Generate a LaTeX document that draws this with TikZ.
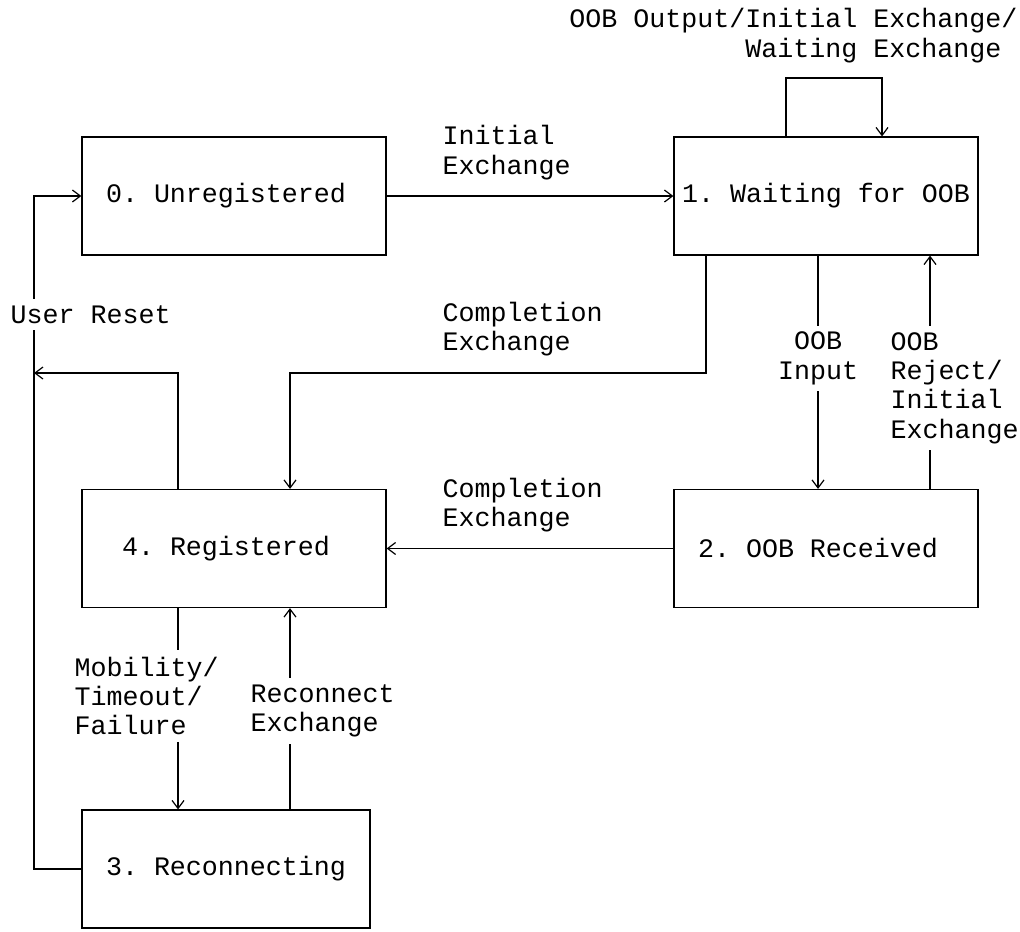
\documentclass[tikz,border=0pt]{standalone}
\usepackage{fontspec}
\setmonofont{Liberation Mono}
\usetikzlibrary{arrows.meta}

\begin{document}
\begin{tikzpicture}[x=0.5pt,y=-0.5pt,line width=0.6pt,>={Straight Barb[length=4pt,width=6pt]},
  every node/.style={font=\ttfamily\fontsize{13.33}{14.68}\selectfont},
  state/.style={draw,minimum width=152pt,minimum height=59pt,inner sep=0pt},
  lbl/.style={inner xsep=0pt,inner ysep=3pt}]
\useasboundingbox (0,0) rectangle (1020,931);
% states
\node[state](b0) at (234,196) {0. Unregistered\hphantom{x}};
\node[state](b1) at (826,196) {1. Waiting for OOB};
\node[state](b2) at (826,548.5) {2. OOB Received\hphantom{x}};
\node[state](b4) at (234,548.5) {4. Registered\hphantom{x}};
\node[state,minimum width=144pt](b3) at (226,869) {3. Reconnecting};
% labels
\node[lbl,anchor=east,align=right](lLoop) at (1018,35.7) {OOB Output/Initial Exchange/\\Waiting Exchange\hphantom{/}};
\node[lbl,anchor=west,align=left](lInit) at (442,152.5) {Initial\\Exchange};
\node[lbl,anchor=west,align=left](lCompl1) at (442,329.2) {Completion\\Exchange};
\node[lbl,align=center](lInput) at (818,358.5) {OOB\\Input};
\node[lbl,anchor=west,align=left](lReject) at (890,387.9) {OOB\\Reject/\\Initial\\Exchange};
\node[lbl,anchor=west,align=left](lCompl2) at (442,505.3) {Completion\\Exchange};
\node[lbl,anchor=west](lReset) at (10,314.5) {User Reset};
\node[lbl,anchor=west,align=left](lMob) at (74,696) {Mobility/\\Timeout/\\Failure};
\node[lbl,anchor=west,align=left](lRecon) at (250,710.7) {Reconnect\\Exchange};
% bends
\coordinate (loopturn) at (882,78);
\coordinate (cturn) at (290,373);
\coordinate (resetjoin) at (34,373);
% transitions
\draw[->] (b0) -- (b1);
\draw[->] (b1.north -| 786,0) |- (loopturn) -- (b1.north -| loopturn);
\draw[->] (b1.south -| 706,0) |- (cturn) -- (b4.north -| cturn);
\draw (b1.south -| lInput) -- (lInput);
\draw[->] (lInput) -- (b2.north -| lInput);
\draw (b2.north -| 930,0) -- (lReject.south -| 930,0);
\draw[->] (lReject.north -| 930,0) -- (b1.south -| 930,0);
\draw[->] (b2) -- (b4);
\draw[->] (b4.north -| 178,0) |- (resetjoin);
\draw (b4.south -| 178,0) -- (lMob.north -| 178,0);
\draw[->] (lMob.south -| 178,0) -- (b3.north -| 178,0);
\draw (b3.north -| 290,0) -- (lRecon.south -| 290,0);
\draw[->] (lRecon.north -| 290,0) -- (b4.south -| 290,0);
\draw (b3.west) -| (lReset.south -| 34,0);
\draw[->] (lReset.north -| 34,0) |- (b0.west);
\end{tikzpicture}
\end{document}
